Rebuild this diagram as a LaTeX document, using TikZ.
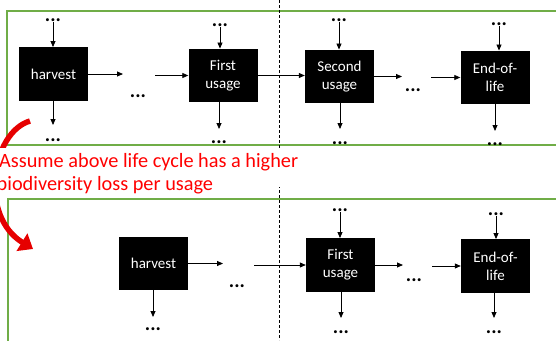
\documentclass[tikz,border=0pt]{standalone}
\usepackage{fontspec}
\setmainfont{Carlito}
\usetikzlibrary{arrows.meta}
\definecolor{grn}{RGB}{112,173,71}
\definecolor{rd}{RGB}{255,0,0}
\definecolor{rdarrow}{RGB}{230,0,0}
\tikzset{
  proc/.style={fill=black, text=white, minimum width=69pt, minimum height=53.5pt,
    align=center, inner sep=0pt, font=\fontsize{15}{18}\selectfont},
  dotsn/.style={anchor=base, inner sep=0pt, font=\bfseries\fontsize{20}{20}\selectfont},
  arr/.style={-{Triangle[length=6pt,width=5pt]}, line width=0.8pt},
  frame/.style={draw=grn, line width=1.4pt},
  capt/.style={anchor=base west, inner sep=0pt, text=rd, font=\fontsize{20.3}{24}\selectfont},
}
\begin{document}
\begin{tikzpicture}[x=1pt,y=-1pt]
\useasboundingbox (0,0) rectangle (556,340);
\clip (0,0) rectangle (556,340);
% frames
\draw[frame] (7,11) rectangle (620,145);
\draw[frame] (8,199) rectangle (620,420);
% dashed divider
\draw[dashed, line width=0.7pt, dash pattern=on 3pt off 2pt] (279,0) -- (279,340);
% red curved arrow
\coordinate (ra) at (30,121);
\coordinate (rb) at (33,249);
\draw[rdarrow, line width=5.5pt, -{Triangle[length=13pt,width=20pt]}]
  (ra) .. controls (-8,132) and (-22,215) .. (rb);
% caption
\fill[white] (-2,148) rectangle (300,187);
\node[capt] (cap1) at (-1,167) {Assume above life cycle has a higher};
\node[capt] (cap2) at (-3.5,190.5) {biodiversity loss per usage};

% ---------- top row ----------
\node[proc] (H1) at (53.5,74) {harvest};
\node[proc] (F1) at (223,75.5) {First\\usage};
\node[proc] (S1) at (339.5,76.5) {Second\\usage};
\node[proc] (E1) at (495,77.5) {End-of-\\life};

\node[dotsn] (H1t) at (53,21) {...};
\node[dotsn] (F1t) at (220,26) {...};
\node[dotsn] (S1t) at (339,21) {...};
\node[dotsn] (E1t) at (499,25) {...};
\node[dotsn] (H1b) at (53,141) {...};
\node[dotsn] (F1b) at (219,143) {...};
\node[dotsn] (S1b) at (340,144) {...};
\node[dotsn] (E1b) at (495,145) {...};
\node[dotsn] (m1) at (138,97) {...};
\node[dotsn] (m2) at (413,91) {...};

\draw[arr] ([yshift=-1pt]H1t.south) -- (H1t.south |- H1.north);
\draw[arr] ([yshift=-1pt]F1t.south) -- (F1t.south |- F1.north);
\draw[arr] ([yshift=-1pt]S1t.south) -- (S1t.south |- S1.north);
\draw[arr] ([yshift=-1pt]E1t.south) -- (E1t.south |- E1.north);

\coordinate (H1o) at (53,125);
\coordinate (F1o) at (219,129);
\coordinate (S1o) at (340,129);
\coordinate (E1o) at (495,131);
\draw[arr] (H1.south -| H1o) -- (H1o);
\draw[arr] (F1.south -| F1o) -- (F1o);
\draw[arr] (S1.south -| S1o) -- (S1o);
\draw[arr] (E1.south -| E1o) -- (E1o);

\coordinate (t1) at (123,74);
\coordinate (t2) at (155,75.5);
\coordinate (t3) at (402,76.5);
\coordinate (t4) at (431,77.5);
\draw[arr] (H1.east) -- (t1);
\draw[arr] (t2) -- (F1.west);
\draw[arr] (F1.east) -- (F1.east -| S1.west);
\draw[arr] (S1.east) -- (t3);
\draw[arr] (t4) -- (E1.west);

% ---------- bottom row ----------
\node[proc] (H2) at (153.5,263.5) {harvest};
\node[proc] (F2) at (340.5,265) {First\\usage};
\node[proc] (E2) at (495.5,266) {End-of-\\life};

\node[dotsn] (F2t) at (340,211) {...};
\node[dotsn] (E2t) at (496,215) {...};
\node[dotsn] (H2b) at (153,330) {...};
\node[dotsn] (F2b) at (341,333) {...};
\node[dotsn] (E2b) at (494,333) {...};
\node[dotsn] (m3) at (237,287) {...};
\node[dotsn] (m4) at (414,281) {...};

\draw[arr] ([yshift=-1pt]F2t.south) -- (F2t.south |- F2.north);
\draw[arr] ([yshift=-1pt]E2t.south) -- (E2t.south |- E2.north);

\coordinate (H2o) at (153,317);
\coordinate (F2o) at (341,318);
\coordinate (E2o) at (494,318);
\draw[arr] (H2.south -| H2o) -- (H2o);
\draw[arr] (F2.south -| F2o) -- (F2o);
\draw[arr] (E2.south -| E2o) -- (E2o);

\coordinate (b1) at (223,263.5);
\coordinate (b2) at (254,265);
\coordinate (b3) at (403,265);
\coordinate (b4) at (432,266);
\draw[arr] (H2.east) -- (b1);
\draw[arr] (b2) -- (F2.west);
\draw[arr] (F2.east) -- (b3);
\draw[arr] (b4) -- (E2.west);
\end{tikzpicture}
\end{document}
